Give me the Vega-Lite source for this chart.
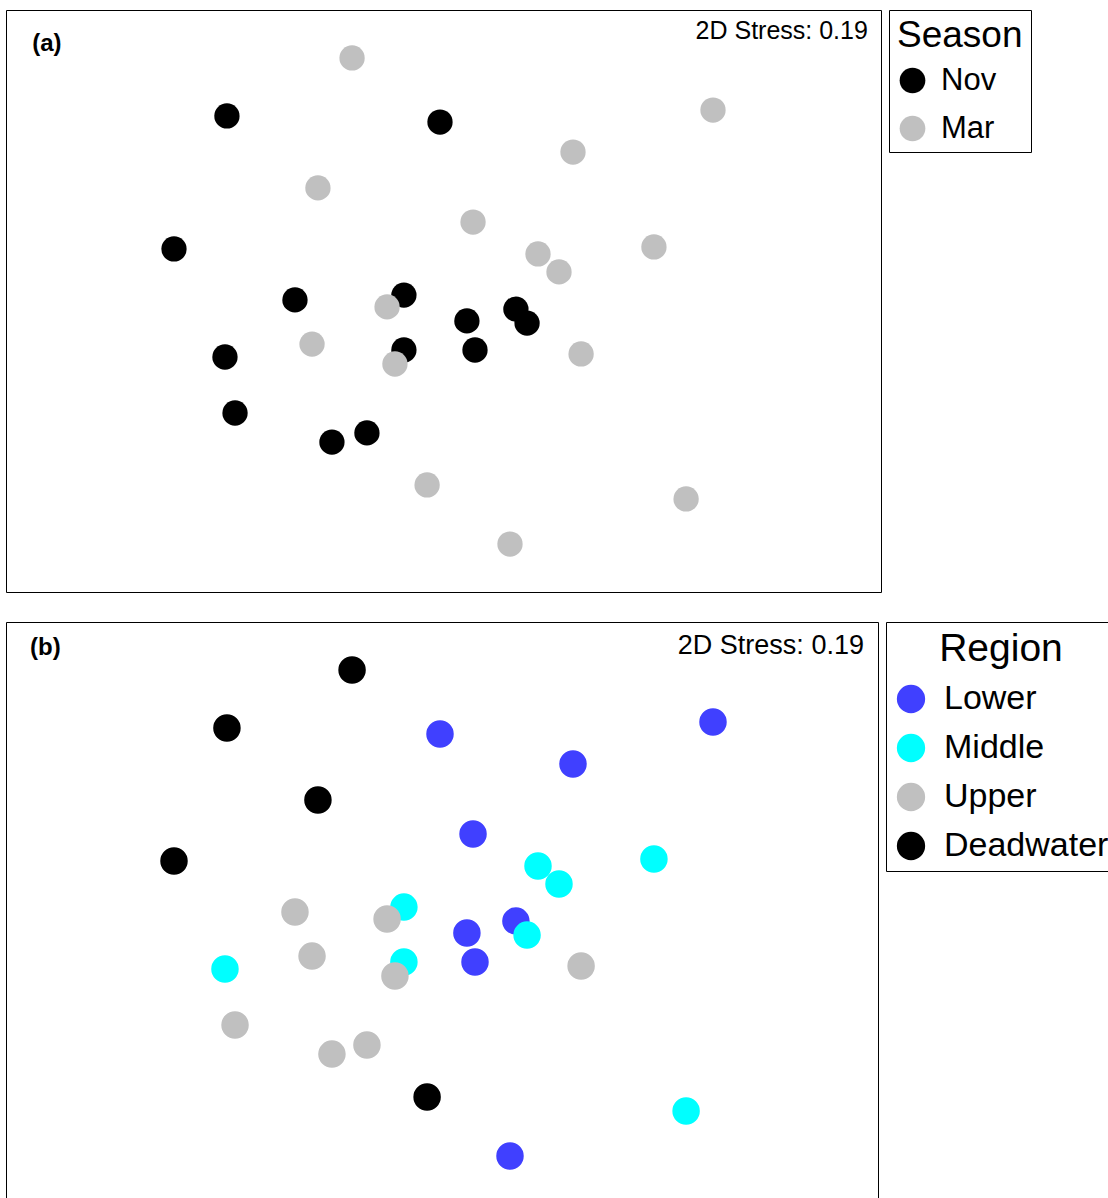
{
  "$schema": "https://vega.github.io/schema/vega-lite/v6.json",
  "padding": {"left": 5, "top": 9, "right": 0, "bottom": 0},
  "background": "white",
  "spacing": 28,
  "datasets": {
    "pts": [
      {"x": -0.016, "y": 0.818, "season": "Nov", "region": "Lower"},
      {"x": 1.232, "y": 0.873, "season": "Mar", "region": "Lower"},
      {"x": 0.592, "y": 0.681, "season": "Mar", "region": "Lower"},
      {"x": 0.135, "y": 0.361, "season": "Mar", "region": "Lower"},
      {"x": 0.331, "y": -0.037, "season": "Nov", "region": "Lower"},
      {"x": 0.107, "y": -0.091, "season": "Nov", "region": "Lower"},
      {"x": 0.144, "y": -0.224, "season": "Nov", "region": "Lower"},
      {"x": 0.304, "y": -1.111, "season": "Mar", "region": "Lower"},
      {"x": 0.432, "y": 0.215, "season": "Mar", "region": "Middle"},
      {"x": 0.528, "y": 0.133, "season": "Mar", "region": "Middle"},
      {"x": 0.962, "y": 0.247, "season": "Mar", "region": "Middle"},
      {"x": -0.181, "y": 0.027, "season": "Nov", "region": "Middle"},
      {"x": 0.382, "y": -0.101, "season": "Nov", "region": "Middle"},
      {"x": -0.999, "y": -0.256, "season": "Nov", "region": "Middle"},
      {"x": -0.181, "y": -0.224, "season": "Nov", "region": "Middle"},
      {"x": 1.109, "y": -0.905, "season": "Mar", "region": "Middle"},
      {"x": -0.679, "y": 0.005, "season": "Nov", "region": "Upper"},
      {"x": -0.258, "y": -0.027, "season": "Mar", "region": "Upper"},
      {"x": -0.601, "y": -0.197, "season": "Mar", "region": "Upper"},
      {"x": -0.222, "y": -0.288, "season": "Mar", "region": "Upper"},
      {"x": 0.629, "y": -0.242, "season": "Mar", "region": "Upper"},
      {"x": -0.953, "y": -0.512, "season": "Nov", "region": "Upper"},
      {"x": -0.51, "y": -0.645, "season": "Nov", "region": "Upper"},
      {"x": -0.35, "y": -0.603, "season": "Nov", "region": "Upper"},
      {"x": -0.418, "y": 1.111, "season": "Mar", "region": "Deadwater"},
      {"x": -0.99, "y": 0.846, "season": "Nov", "region": "Deadwater"},
      {"x": -0.574, "y": 0.517, "season": "Mar", "region": "Deadwater"},
      {"x": -1.232, "y": 0.238, "season": "Nov", "region": "Deadwater"},
      {"x": -0.075, "y": -0.841, "season": "Mar", "region": "Deadwater"}
    ]
  },
  "vconcat": [
    {
      "width": 875,
      "height": 582,
      "layer": [
        {
          "data": {"name": "pts"},
          "mark": {"type": "point", "filled": true, "opacity": 1, "size": 640, "shape": "circle", "strokeWidth": 0},
          "encoding": {
            "x": {"field": "x", "type": "quantitative", "axis": null, "scale": {"domain": [-2, 2], "nice": false, "zero": false}},
            "y": {"field": "y", "type": "quantitative", "axis": null, "scale": {"domain": [-1.3303, 1.3303], "nice": false, "zero": false}},
            "order": {"field": "season", "sort": "descending"},
            "color": {
              "field": "season", "type": "nominal",
              "scale": {"domain": ["Nov", "Mar"], "range": ["#000000", "#c0c0c0"]},
              "legend": {
                "title": "Season", "orient": "right", "offset": 8,
                "strokeColor": "#000000", "padding": 8,
                "titleFont": "Liberation Sans", "titleFontSize": 37, "titleFontWeight": "normal", "titleColor": "#000000",
                "titlePadding": 10,
                "labelFont": "Liberation Sans", "labelFontSize": 31, "labelColor": "#000000", "labelOffset": 13, "labelLimit": 400,
                "symbolType": "circle", "symbolSize": 660, "symbolStrokeWidth": 0, "symbolOpacity": 1,
                "rowPadding": 16
              }
            }
          }
        },
        {
          "data": {"values": [{"label": "(a)", "x": -1.88, "y": 1.143}]},
          "mark": {"type": "text", "align": "left", "baseline": "alphabetic", "font": "Liberation Sans", "fontWeight": "bold", "fontSize": 24, "color": "#000000"},
          "encoding": {
            "x": {"field": "x", "type": "quantitative", "axis": null},
            "y": {"field": "y", "type": "quantitative", "axis": null},
            "text": {"field": "label"}
          }
        },
        {
          "data": {"values": [{"label": "2D Stress: 0.19", "x": 1.94, "y": 1.198}]},
          "mark": {"type": "text", "align": "right", "baseline": "alphabetic", "font": "Liberation Sans", "fontSize": 25, "color": "#000000"},
          "encoding": {
            "x": {"field": "x", "type": "quantitative", "axis": null},
            "y": {"field": "y", "type": "quantitative", "axis": null},
            "text": {"field": "label"}
          }
        }
      ]
    },
    {
      "width": 872,
      "height": 577,
      "layer": [
        {
          "data": {"name": "pts"},
          "mark": {"type": "point", "filled": true, "opacity": 1, "size": 755, "shape": "circle", "strokeWidth": 0},
          "encoding": {
            "x": {"field": "x", "type": "quantitative", "axis": null, "scale": {"domain": [-2, 1.9863], "nice": false, "zero": false}},
            "y": {"field": "y", "type": "quantitative", "axis": null, "scale": {"domain": [-1.3074, 1.3303], "nice": false, "zero": false}},
            "color": {
              "field": "region", "type": "nominal",
              "scale": {"domain": ["Lower", "Middle", "Upper", "Deadwater"], "range": ["#4040ff", "#00ffff", "#c0c0c0", "#000000"]},
              "legend": {
                "title": "Region", "orient": "right", "offset": 8,
                "strokeColor": "#000000", "padding": 8,
                "titleFont": "Liberation Sans", "titleFontSize": 39, "titleFontWeight": "normal", "titleColor": "#000000",
                "titleAnchor": "middle", "titlePadding": 13,
                "labelFont": "Liberation Sans", "labelFontSize": 34, "labelColor": "#000000", "labelOffset": 16, "labelLimit": 400,
                "symbolType": "circle", "symbolSize": 800, "symbolStrokeWidth": 0, "symbolOpacity": 1,
                "rowPadding": 15
              }
            }
          }
        },
        {
          "data": {"values": [{"label": "(b)", "x": -1.89, "y": 1.179}]},
          "mark": {"type": "text", "align": "left", "baseline": "alphabetic", "font": "Liberation Sans", "fontWeight": "bold", "fontSize": 24, "color": "#000000"},
          "encoding": {
            "x": {"field": "x", "type": "quantitative", "axis": null},
            "y": {"field": "y", "type": "quantitative", "axis": null},
            "text": {"field": "label"}
          }
        },
        {
          "data": {"values": [{"label": "2D Stress: 0.19", "x": 1.922, "y": 1.184}]},
          "mark": {"type": "text", "align": "right", "baseline": "alphabetic", "font": "Liberation Sans", "fontSize": 27, "color": "#000000"},
          "encoding": {
            "x": {"field": "x", "type": "quantitative", "axis": null},
            "y": {"field": "y", "type": "quantitative", "axis": null},
            "text": {"field": "label"}
          }
        }
      ]
    }
  ],
  "resolve": {
    "scale": {"color": "independent", "x": "independent", "y": "independent"},
    "legend": {"color": "independent"}
  },
  "config": {
    "view": {"stroke": "#000000", "strokeWidth": 1},
    "font": "Liberation Sans"
  }
}
